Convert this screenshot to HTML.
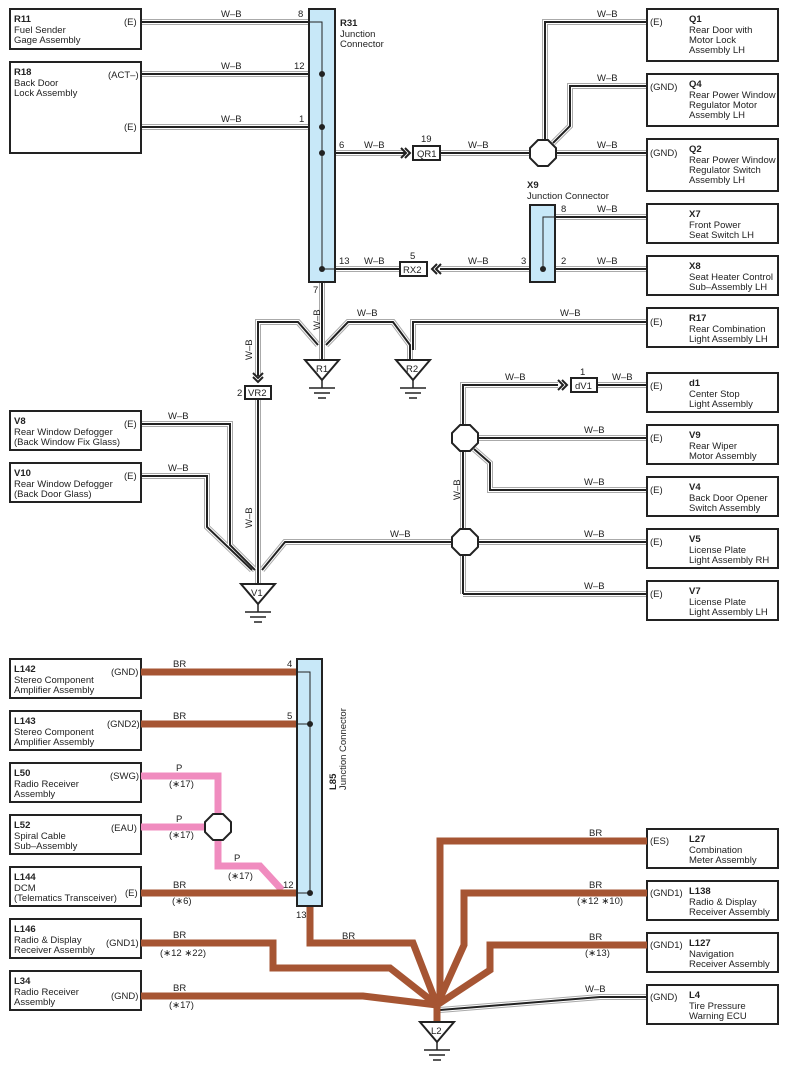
<!DOCTYPE html>
<html><head><meta charset="utf-8"><style>
html,body{margin:0;padding:0;background:#fff}
svg{display:block}
text{font-family:"Liberation Sans",sans-serif;font-size:9.5px;fill:#222}
.b{font-weight:bold}
</style></head><body>
<svg width="787" height="1076" viewBox="0 0 787 1076" xmlns="http://www.w3.org/2000/svg">
<defs>
<g id="w" fill="none" stroke-linejoin="miter">
<path d="M141 22H309"/>
<path d="M141 74H309"/>
<path d="M141 127H309"/>
<path d="M335 153H405M440 153H530"/>
<path d="M545 140V22H647"/>
<path d="M553 143L570 126V86H647"/>
<path d="M556 153H647"/>
<path d="M555 217H647"/>
<path d="M555 269H647"/>
<path d="M335 269H400M440 269H530"/>
<path d="M322 282V360"/>
<path d="M318 345L298 322H258V376"/>
<path d="M326 345L348 322H393L410 345V360"/>
<path d="M413 350V322H647"/>
<path d="M258 399V583"/>
<path d="M141 424H230V545L255 570"/>
<path d="M141 476H207V527L252 570"/>
<path d="M262 570L285 542H452"/>
<path d="M463 594V385H558M597 385H647"/>
<path d="M478 438H647"/>
<path d="M474 449L490 463V490H647"/>
<path d="M478 542H647"/>
<path d="M463 594H647"/>
<path d="M440 1010L600 997H647"/>
</g>
<g id="oct"><polygon points="-5,-13 5,-13 13,-5 13,5 5,13 -5,13 -13,5 -13,-5" fill="#fff" stroke="#222" stroke-width="2"/></g>
<g id="gnd" fill="none" stroke="#222">
<polygon points="-17,0 17,0 0,20" fill="#fff" stroke-width="2"/>
<path d="M0 20V28M-13 28H13M-8 33H8M-4 38H4" stroke-width="1.5"/>
</g>
</defs>

<!-- W-B wires -->
<use href="#w" stroke="#aaa" stroke-width="6"/>
<use href="#w" stroke="#fff" stroke-width="4"/>
<use href="#w" stroke="#222" stroke-width="2"/>

<!-- boxes left top -->
<g fill="#fff" stroke="#222" stroke-width="2">
<rect x="10" y="9" width="131" height="40"/>
<rect x="10" y="62" width="131" height="91"/>
<rect x="10" y="411" width="131" height="39"/>
<rect x="10" y="463" width="131" height="39"/>
<rect x="647" y="9" width="131" height="52"/>
<rect x="647" y="74" width="131" height="52"/>
<rect x="647" y="139" width="131" height="52"/>
<rect x="647" y="204" width="131" height="39"/>
<rect x="647" y="256" width="131" height="39"/>
<rect x="647" y="308" width="131" height="39"/>
<rect x="647" y="373" width="131" height="39"/>
<rect x="647" y="425" width="131" height="39"/>
<rect x="647" y="477" width="131" height="39"/>
<rect x="647" y="529" width="131" height="39"/>
<rect x="647" y="581" width="131" height="39"/>
<rect x="10" y="659" width="131" height="39"/>
<rect x="10" y="711" width="131" height="39"/>
<rect x="10" y="763" width="131" height="39"/>
<rect x="10" y="815" width="131" height="39"/>
<rect x="10" y="867" width="131" height="39"/>
<rect x="10" y="919" width="131" height="39"/>
<rect x="10" y="971" width="131" height="39"/>
<rect x="647" y="829" width="131" height="39"/>
<rect x="647" y="881" width="131" height="39"/>
<rect x="647" y="933" width="131" height="39"/>
<rect x="647" y="985" width="131" height="39"/>
</g>

<!-- junction connectors -->
<rect x="309" y="9" width="26" height="273" fill="#c8e8f8" stroke="#222" stroke-width="2"/>
<path d="M309 22H322V269H335" fill="none" stroke="#222" stroke-width="1"/>
<g fill="#222"><circle cx="322" cy="74" r="3"/><circle cx="322" cy="127" r="3"/><circle cx="322" cy="153" r="3"/><circle cx="322" cy="269" r="3"/></g>
<rect x="530" y="205" width="25" height="77" fill="#c8e8f8" stroke="#222" stroke-width="2"/>
<path d="M555 217H543V269" fill="none" stroke="#222" stroke-width="1"/>
<circle cx="543" cy="269" r="3" fill="#222"/>

<!-- inline connectors -->
<g fill="#fff" stroke="#222" stroke-width="2">
<rect x="413" y="146" width="27" height="14"/>
<rect x="400" y="262" width="27" height="14"/>
<rect x="245" y="386" width="26" height="13"/>
<rect x="571" y="378" width="26" height="14"/>
</g>
<g fill="none" stroke="#222" stroke-width="2">
<path d="M401 148L406 153L401 158M405 148L410 153L405 158"/>
<path d="M437 264L432 269L437 274M441 264L436 269L441 274"/>
<path d="M253 373L258 378L263 373M253 377L258 382L263 377"/>
<path d="M558 380L563 385L558 390M562 380L567 385L562 390"/>
</g>
<text x="417" y="157">QR1</text><text x="421" y="142">19</text>
<text x="403" y="273">RX2</text><text x="410" y="259">5</text>
<text x="248" y="396">VR2</text><text x="237" y="396">2</text>
<text x="575" y="389">dV1</text><text x="580" y="375">1</text>

<use href="#oct" x="543" y="153"/>
<use href="#oct" x="465" y="438"/>
<use href="#oct" x="465" y="542"/>

<use href="#gnd" x="322" y="360"/><text x="316" y="372">R1</text>
<use href="#gnd" x="413" y="360"/><text x="406" y="372">R2</text>
<use href="#gnd" x="258" y="584"/><text x="251" y="596">V1</text>

<!-- labels top -->
<g>
<text x="14" y="22" class="b">R11</text><text x="14" y="33">Fuel Sender</text><text x="14" y="43">Gage Assembly</text><text x="124" y="25">(E)</text>
<text x="14" y="75" class="b">R18</text><text x="14" y="86">Back Door</text><text x="14" y="96">Lock Assembly</text><text x="108" y="78">(ACT–)</text><text x="124" y="130">(E)</text>
<text x="221" y="17">W–B</text><text x="298" y="17">8</text>
<text x="221" y="69">W–B</text><text x="294" y="69">12</text>
<text x="221" y="122">W–B</text><text x="299" y="122">1</text>
<text x="340" y="26" class="b">R31</text><text x="340" y="37">Junction</text><text x="340" y="47">Connector</text>
<text x="339" y="148">6</text><text x="364" y="148">W–B</text>
<text x="339" y="264">13</text><text x="364" y="264">W–B</text>
<text x="468" y="264">W–B</text><text x="521" y="264">3</text><text x="561" y="264">2</text><text x="597" y="264">W–B</text>
<text x="468" y="148">W–B</text><text x="597" y="148">W–B</text>
<text x="597" y="17">W–B</text><text x="597" y="81">W–B</text>
<text x="561" y="212">8</text><text x="597" y="212">W–B</text>
<text x="527" y="188" class="b">X9</text><text x="527" y="199">Junction Connector</text>
<text x="313" y="293">7</text>
<text x="357" y="316">W–B</text><text x="560" y="316">W–B</text>
<text x="505" y="380">W–B</text><text x="612" y="380">W–B</text>
<text x="584" y="433">W–B</text><text x="584" y="485">W–B</text><text x="584" y="537">W–B</text><text x="584" y="589">W–B</text>
<text x="390" y="537">W–B</text>
<text x="168" y="419">W–B</text><text x="168" y="471">W–B</text>
<text transform="translate(320,330) rotate(-90)">W–B</text>
<text transform="translate(252,360) rotate(-90)">W–B</text>
<text transform="translate(252,528) rotate(-90)">W–B</text>
<text transform="translate(460,500) rotate(-90)">W–B</text>
<text x="14" y="424" class="b">V8</text><text x="14" y="435">Rear Window Defogger</text><text x="14" y="445">(Back Window Fix Glass)</text><text x="124" y="427">(E)</text>
<text x="14" y="476" class="b">V10</text><text x="14" y="487">Rear Window Defogger</text><text x="14" y="497">(Back Door Glass)</text><text x="124" y="479">(E)</text>
</g>
<!-- right labels -->
<g>
<text x="650" y="25">(E)</text><text x="689" y="22" class="b">Q1</text><text x="689" y="33">Rear Door with</text><text x="689" y="43">Motor Lock</text><text x="689" y="53">Assembly LH</text>
<text x="650" y="90">(GND)</text><text x="689" y="87" class="b">Q4</text><text x="689" y="98">Rear Power Window</text><text x="689" y="108">Regulator Motor</text><text x="689" y="118">Assembly LH</text>
<text x="650" y="156">(GND)</text><text x="689" y="152" class="b">Q2</text><text x="689" y="163">Rear Power Window</text><text x="689" y="173">Regulator Switch</text><text x="689" y="183">Assembly LH</text>
<text x="689" y="217" class="b">X7</text><text x="689" y="228">Front Power</text><text x="689" y="238">Seat Switch LH</text>
<text x="689" y="269" class="b">X8</text><text x="689" y="280">Seat Heater Control</text><text x="689" y="290">Sub–Assembly LH</text>
<text x="650" y="325">(E)</text><text x="689" y="321" class="b">R17</text><text x="689" y="332">Rear Combination</text><text x="689" y="342">Light Assembly LH</text>
<text x="650" y="389">(E)</text><text x="689" y="386" class="b">d1</text><text x="689" y="397">Center Stop</text><text x="689" y="407">Light Assembly</text>
<text x="650" y="441">(E)</text><text x="689" y="438" class="b">V9</text><text x="689" y="449">Rear Wiper</text><text x="689" y="459">Motor Assembly</text>
<text x="650" y="493">(E)</text><text x="689" y="490" class="b">V4</text><text x="689" y="501">Back Door Opener</text><text x="689" y="511">Switch Assembly</text>
<text x="650" y="545">(E)</text><text x="689" y="542" class="b">V5</text><text x="689" y="553">License Plate</text><text x="689" y="563">Light Assembly RH</text>
<text x="650" y="597">(E)</text><text x="689" y="594" class="b">V7</text><text x="689" y="605">License Plate</text><text x="689" y="615">Light Assembly LH</text>
</g>

<!-- lower section -->
<g fill="none" stroke-linejoin="miter">
<path d="M141 776H218V866H260L282 890M141 827H218" stroke="#f08cbf" stroke-width="7"/>
<g stroke="#a65533" stroke-width="7">
<path d="M141 672H297M141 724H297M141 893H297"/>
<path d="M310 906V943H413L437 1005"/>
<path d="M141 943H273V968H390L437 1005"/>
<path d="M141 996H363L437 1005"/>
<path d="M647 841H440V1005"/>
<path d="M647 893H464V945L437 1005"/>
<path d="M647 945H490V970L437 1005"/>
<path d="M437 1005V1022"/>
</g>
</g>
<use href="#oct" x="218" y="827"/>
<rect x="297" y="659" width="25" height="247" fill="#c8e8f8" stroke="#222" stroke-width="2"/>
<path d="M297 672H310V893H297M297 724H310" fill="none" stroke="#222" stroke-width="1"/>
<circle cx="310" cy="724" r="3" fill="#222"/><circle cx="310" cy="893" r="3" fill="#222"/>
<use href="#gnd" x="437" y="1022"/><text x="431" y="1034">L2</text>
<g>
<text x="14" y="672" class="b">L142</text><text x="14" y="683">Stereo Component</text><text x="14" y="693">Amplifier Assembly</text><text x="111" y="675">(GND)</text>
<text x="14" y="724" class="b">L143</text><text x="14" y="735">Stereo Component</text><text x="14" y="745">Amplifier Assembly</text><text x="107" y="727">(GND2)</text>
<text x="14" y="776" class="b">L50</text><text x="14" y="787">Radio Receiver</text><text x="14" y="797">Assembly</text><text x="110" y="779">(SWG)</text>
<text x="14" y="828" class="b">L52</text><text x="14" y="839">Spiral Cable</text><text x="14" y="849">Sub–Assembly</text><text x="111" y="831">(EAU)</text>
<text x="14" y="880" class="b">L144</text><text x="14" y="891">DCM</text><text x="14" y="901">(Telematics Transceiver)</text><text x="125" y="896">(E)</text>
<text x="14" y="932" class="b">L146</text><text x="14" y="943">Radio &amp; Display</text><text x="14" y="953">Receiver Assembly</text><text x="106" y="946">(GND1)</text>
<text x="14" y="984" class="b">L34</text><text x="14" y="995">Radio Receiver</text><text x="14" y="1005">Assembly</text><text x="111" y="999">(GND)</text>
<text x="173" y="667">BR</text><text x="287" y="667">4</text>
<text x="173" y="719">BR</text><text x="287" y="719">5</text>
<text x="176" y="771">P</text><text x="169" y="787">(∗17)</text>
<text x="176" y="822">P</text><text x="169" y="838">(∗17)</text>
<text x="234" y="861">P</text><text x="228" y="879">(∗17)</text>
<text x="173" y="888">BR</text><text x="172" y="904">(∗6)</text><text x="283" y="888">12</text>
<text x="296" y="918">13</text><text x="342" y="939">BR</text>
<text x="173" y="938">BR</text><text x="160" y="956">(∗12 ∗22)</text>
<text x="173" y="991">BR</text><text x="169" y="1008">(∗17)</text>
<text transform="translate(336,790) rotate(-90)" class="b">L85</text>
<text transform="translate(346,790) rotate(-90)">Junction Connector</text>
<text x="589" y="836">BR</text>
<text x="589" y="888">BR</text><text x="577" y="904">(∗12 ∗10)</text>
<text x="589" y="940">BR</text><text x="585" y="956">(∗13)</text>
<text x="585" y="992">W–B</text>
<text x="650" y="844">(ES)</text><text x="689" y="842" class="b">L27</text><text x="689" y="853">Combination</text><text x="689" y="863">Meter Assembly</text>
<text x="650" y="896">(GND1)</text><text x="689" y="894" class="b">L138</text><text x="689" y="905">Radio &amp; Display</text><text x="689" y="915">Receiver Assembly</text>
<text x="650" y="948">(GND1)</text><text x="689" y="946" class="b">L127</text><text x="689" y="957">Navigation</text><text x="689" y="967">Receiver Assembly</text>
<text x="650" y="1000">(GND)</text><text x="689" y="998" class="b">L4</text><text x="689" y="1009">Tire Pressure</text><text x="689" y="1019">Warning ECU</text>
</g>
</svg>
</body></html>
